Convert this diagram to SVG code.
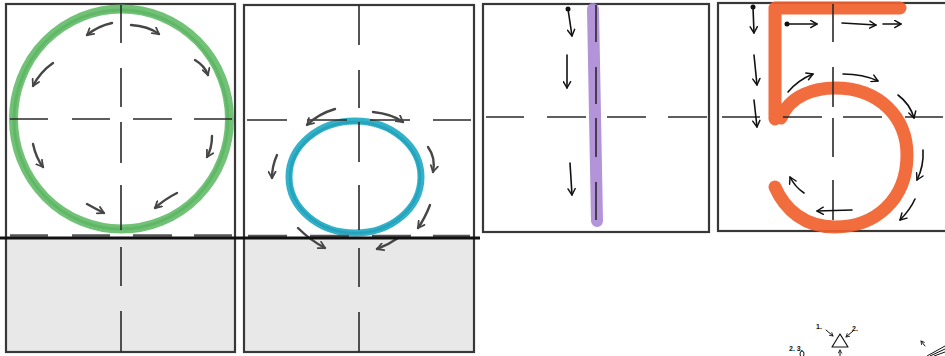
<svg xmlns="http://www.w3.org/2000/svg" width="945" height="356" viewBox="0 0 945 356">
<defs>
<style>
.box{fill:none;stroke:#383838;stroke-width:2.2}
.grid{fill:none;stroke:#2a2a2a;stroke-width:1.6}
.base{fill:none;stroke:#555;stroke-width:2.6}
.ga{fill:none;stroke:#464646;stroke-width:2.4;stroke-linecap:round;marker-end:url(#hg)}
.ba{fill:none;stroke:#111;stroke-width:1.6;stroke-linecap:round;marker-end:url(#hb)}
.sa{fill:none;stroke:#111;stroke-width:1;stroke-linecap:round;marker-end:url(#hs)}
.lbl{font-family:"Liberation Sans",Arial,sans-serif;font-weight:bold;font-size:7px;fill:#111}
</style>
<marker id="hg" viewBox="0 0 10 10" refX="8" refY="5" markerWidth="9" markerHeight="9" markerUnits="userSpaceOnUse" orient="auto"><path d="M1,1 L8,5 L1,9" fill="none" stroke="#464646" stroke-width="2" stroke-linecap="round" stroke-linejoin="round"/></marker>
<marker id="hb" viewBox="0 0 10 10" refX="8" refY="5" markerWidth="9" markerHeight="9" markerUnits="userSpaceOnUse" orient="auto"><path d="M1,1 L8,5 L1,9" fill="none" stroke="#111" stroke-width="1.6" stroke-linecap="round" stroke-linejoin="round"/></marker>
<marker id="hs" viewBox="0 0 10 10" refX="8" refY="5" markerWidth="5" markerHeight="5" markerUnits="userSpaceOnUse" orient="auto"><path d="M1,1 L8,5 L1,9" fill="none" stroke="#111" stroke-width="1.6"/></marker>
</defs>
<rect width="945" height="356" fill="#fff"/>

<g id="box1">
<rect x="6" y="238" width="229" height="114" fill="#e8e8e8"/>
<rect class="box" x="6" y="4" width="229" height="348"/>
<ellipse cx="121.5" cy="119" rx="108" ry="110" fill="none" stroke="#62bb68" stroke-width="9" opacity="0.9"/>
<ellipse cx="121" cy="119.5" rx="107" ry="109.5" fill="none" stroke="#4fae57" stroke-width="3" opacity="0.5"/>
<path class="grid" d="M121,5V43M121,68V107M121,122V163M121,185V230M121,247V286M121,311V352M10,119H48M72,119H110M133,119H172M194,119H232"/>
<path class="base" d="M10,235.5H48M72,235.5H110M133,235.5H172M194,235.5H232"/>
<path class="ga" d="M112,23Q98,26 87,35"/>
<path class="ga" d="M131,25Q148,26 159,34"/>
<path class="ga" d="M195,60Q205,66 208,75"/>
<path class="ga" d="M53,63Q40,72 33,86"/>
<path class="ga" d="M33,144Q36,158 43,167"/>
<path class="ga" d="M212,136Q212,148 207,157"/>
<path class="ga" d="M87,204Q96,209 104,213"/>
<path class="ga" d="M177,193Q165,199 155,208"/>
</g>

<g id="box2">
<rect x="244" y="238" width="230" height="114" fill="#e8e8e8"/>
<rect class="box" x="244" y="5" width="230" height="347"/>
<ellipse cx="355" cy="177" rx="66" ry="56" fill="none" stroke="#22aac4" stroke-width="7" opacity="0.92"/>
<ellipse cx="355" cy="177.5" rx="65" ry="55.5" fill="none" stroke="#1593ad" stroke-width="2.5" opacity="0.45"/>
<path class="grid" d="M359,5V45M359,70V108M359,122V162M359,185V230M359,248V287M359,312V352M247,120H287M307,120H347M370,120H410M433,120H471"/>
<path class="base" d="M248,236H287M310,236H349M372,236H411M433,236H470"/>
<path class="ga" d="M335,109Q318,114 307,125"/>
<path class="ga" d="M373,112Q392,114 403,122"/>
<path class="ga" d="M428,147Q436,158 433,172"/>
<path class="ga" d="M277,155Q272,166 272,178"/>
<path class="ga" d="M430,205Q425,218 418,228"/>
<path class="ga" d="M298,228Q310,240 325,248"/>
<path class="ga" d="M398,238Q388,245 377,249"/>
</g>

<g id="baseline">
<path d="M0,238H480" stroke="#111" stroke-width="3"/>
</g>

<g id="box3">
<rect class="box" x="483" y="4" width="226" height="228"/>
<path d="M593,9L597,221" stroke="#ad8bd6" stroke-width="12" stroke-linecap="round" opacity="0.92"/>
<path class="grid" d="M596,5V42M596,67V104M596,118V157M596,182V220M486,117H524M547,117H586M607,117H646M668,117H707"/>
<circle cx="568" cy="9" r="2.5" fill="#111"/>
<path class="ba" d="M568,9L572,36"/>
<path class="ba" d="M567,55L567,88"/>
<path class="ba" d="M570,163L572,195"/>
</g>

<g id="box4">
<rect class="box" x="718" y="3" width="230" height="228"/>
<path d="M775,119V8H900M781,118C790,95 815,88 835,88C880,88 907,118 907,155C907,200 875,227 835,227C805,227 785,210 775,187" fill="none" stroke="#f1612c" stroke-width="13" stroke-linecap="round" stroke-linejoin="round" opacity="0.92"/>
<path class="grid" d="M833,4V42M833,67V107M833,118V157M833,180V220M722,117H760M783,117H822M843,117H882M905,117H943"/>
<circle cx="753" cy="7" r="2.5" fill="#111"/>
<circle cx="787" cy="24" r="2.5" fill="#111"/>
<path class="ba" d="M753,7L754,33"/>
<path class="ba" d="M754,55L757,85"/>
<path class="ba" d="M754,100L757,127"/>
<path class="ba" d="M787,24L817,24"/>
<path class="ba" d="M842,23L876,25"/>
<path class="ba" d="M883,24L901,24"/>
<path class="ba" d="M788,92Q798,80 813,74"/>
<path class="ba" d="M843,74Q863,74 878,81"/>
<path class="ba" d="M898,95Q910,104 914,118"/>
<path class="ba" d="M923,150Q924,166 917,180"/>
<path class="ba" d="M915,199Q910,210 900,220"/>
<path class="ba" d="M852,210L817,211"/>
<path class="ba" d="M804,193Q795,187 790,177"/>
</g>

<g id="hints">
<text class="lbl" x="816" y="329">1.</text>
<text class="lbl" x="852" y="331">2.</text>
<text class="lbl" x="789" y="351">2. 3.</text>
<path d="M840,334L848,347L832,347Z" fill="none" stroke="#111" stroke-width="1.2" stroke-linejoin="round"/>
<path class="sa" d="M826,330L833,336"/>
<path class="sa" d="M853,331L846,337"/>
<path class="sa" d="M840,356L840,350"/>
<ellipse cx="802" cy="354" rx="2" ry="3" fill="none" stroke="#111" stroke-width="1"/>
<path class="sa" d="M925,346L921,341"/>
<path d="M927,356L945,346M930,356L945,349M934,356L945,352" stroke="#111" stroke-width="1"/>
</g>
</svg>
